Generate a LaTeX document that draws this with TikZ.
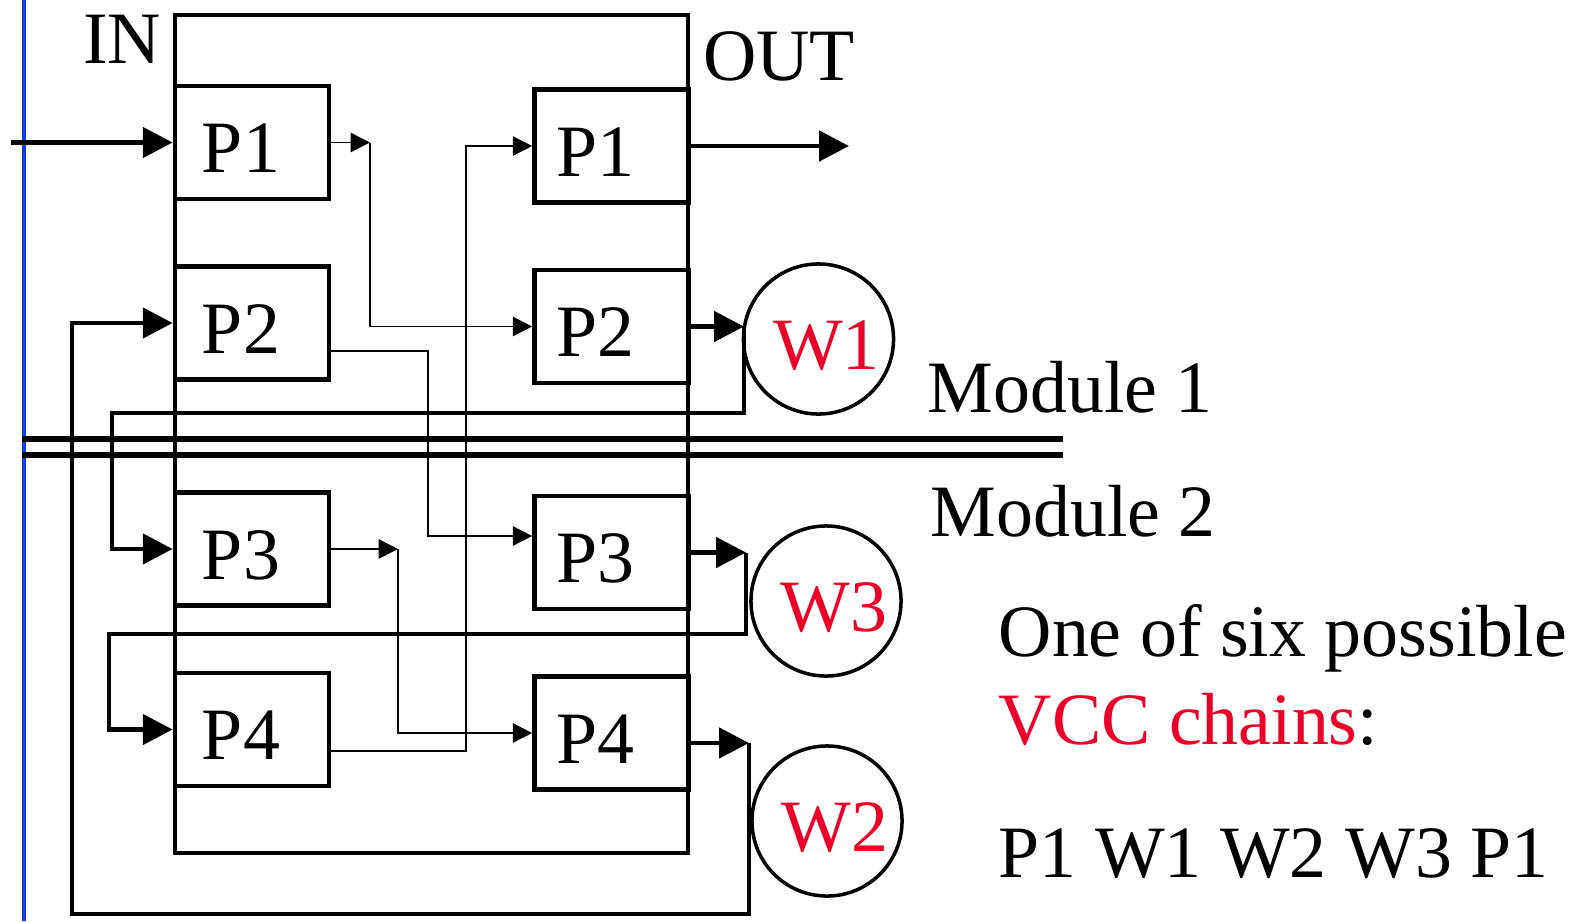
\documentclass[tikz,border=0pt]{standalone}
\usepackage{fontspec}
\setmainfont{Liberation Serif}
\usetikzlibrary{arrows.meta, calc}
\definecolor{vccred}{RGB}{235,0,40}
\definecolor{railblue}{RGB}{20,60,230}
\tikzset{
    procbox/.style={rectangle, draw, line width=1.3pt, minimum width=1.53cm, minimum height=1.13cm, text width=1.0cm, align=left, inner xsep=0.27cm, inner ysep=0pt, text height=0.6cm, text depth=0pt, font=\fontsize{21}{25}\selectfont},
    procout/.style={procbox, text width=1.1cm, inner xsep=0.22cm},
    wstation/.style={circle, draw, line width=1pt, minimum size=1.5cm, inner sep=0pt, text=vccred, text height=0.6cm, text depth=0pt, execute at begin node=\hspace*{0.16cm}, font=\fontsize{21}{25}\selectfont},
    bigarr/.style={-{Triangle[length=8.5pt, width=8.5pt]}, line width=1.4pt},
    thinarr/.style={-{Triangle[length=5.5pt, width=5.5pt]}, line width=0.45pt},
    lbl/.style={font=\fontsize{21}{25}\selectfont, inner sep=0pt, anchor=base west},
    modline/.style={line width=1.7pt}
}
\begin{document}
\begin{tikzpicture}[x=0.01cm, y=-0.01cm]
    \useasboundingbox (0,0) rectangle (1576,921);
    % rail and module border
    \draw[railblue, line width=1.3pt] (24,0) -- (24,921);
    \draw[line width=1.3pt] (175,15) rectangle (688,853);
    \draw[modline] (22,439) -- (1063,439);
    \draw[modline] (22,455) -- (1063,455);
    % processors, IN side
    \node[procbox] (p1l) at (252,142.5) {P1};
    \node[procbox] (p2l) at (252,323) {P2};
    \node[procbox] (p3l) at (252,549) {P3};
    \node[procbox] (p4l) at (252,729.5) {P4};
    % processors, OUT side
    \node[procout] (p1r) at (611.5,146) {P1};
    \node[procout] (p2r) at (611.5,326.5) {P2};
    \node[procout] (p3r) at (611.5,552.5) {P3};
    \node[procout] (p4r) at (611.5,733) {P4};
    % wavelength converters
    \node[wstation] (w1) at (818.5,339) {W1};
    \node[wstation] (w3) at (826,601) {W3};
    \node[wstation] (w2) at (827,821) {W2};
    % labels
    \node[lbl, anchor=base] (inlbl) at (122,63) {IN};
    \node[lbl, anchor=base] (outlbl) at (779,80) {OUT};
    \node[lbl] (mod1) at (927,412) {Module 1};
    \node[lbl] (mod2) at (930,536) {Module 2};
    \node[lbl] (note1) at (998,656) {One of six possible};
    \node[lbl] (note2) at (998,744) {\textcolor{vccred}{VCC chains}:};
    \node[lbl] (note3) at (998,877) {P1 W1 W2 W3 P1};
    % bend points
    \coordinate (inpt) at (11,142.5);
    \coordinate (outpt) at (849,146);
    \coordinate (w1in) at (744,326.5);
    \coordinate (w1ret) at (112,413);
    \coordinate (w3in) at (746,552.5);
    \coordinate (w3ret) at (109,634);
    \coordinate (w2in) at (749,743);
    \coordinate (w2ret) at (72,914);
    \coordinate (j1) at (370,142.5);
    \coordinate (j2) at (428,351);
    \coordinate (j2b) at (428,536);
    \coordinate (j3) at (398,549);
    \coordinate (j4) at (466,751);
    % fibre in / out
    \draw[bigarr] (inpt) -- (p1l.west);
    \draw[bigarr] (p1r.east) -- (outpt);
    % converter loops
    \draw[bigarr] (p2r.east) -- (w1in);
    \draw[bigarr] (w1in) |- (w1ret) |- (p3l.west);
    \draw[bigarr] (p3r.east) -- (w3in);
    \draw[bigarr] (w3in) |- (w3ret) |- (p4l.west);
    \draw[bigarr] (p4r.east |- w2in) -- (w2in);
    \draw[bigarr] (w2in) |- (w2ret) |- (p2l.west);
    % crossbar
    \draw[thinarr] (p1l.east) -- (j1);
    \draw[thinarr] (j1) |- (p2r.west);
    \draw[thinarr] (p2l.east |- j2) -- (j2) -- (j2b) -- (p3r.west |- j2b);
    \draw[thinarr] (p3l.east) -- (j3);
    \draw[thinarr] (j3) |- (p4r.west);
    \draw[thinarr] (p4l.east |- j4) -- (j4) |- (p1r.west);
\end{tikzpicture}
\end{document}
